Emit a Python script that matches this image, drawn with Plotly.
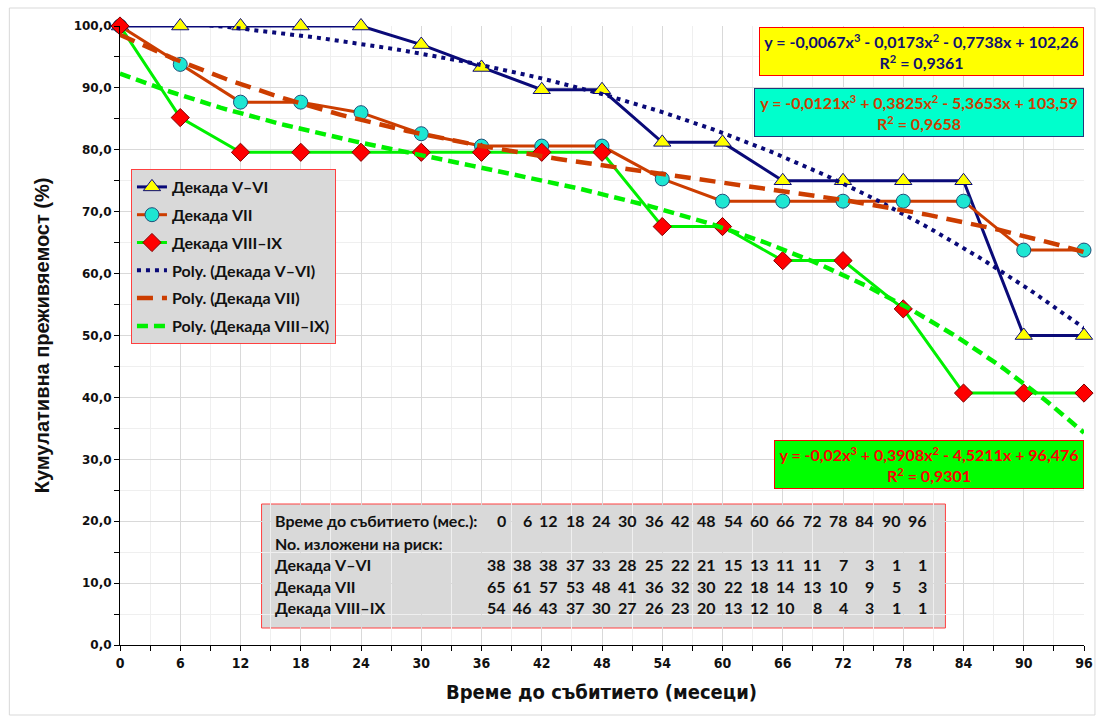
import numpy as np
import plotly.graph_objects as go

# ---------------- data ----------------
months = [0, 6, 12, 18, 24, 30, 36, 42, 48, 54, 60, 66, 72, 78, 84, 90, 96]

surv_v_vi = [100.0, 100.0, 100.0, 100.0, 100.0, 97.0, 93.3, 89.7, 89.7, 81.2, 81.2,
             75.0, 75.0, 75.0, 75.0, 50.0, 50.0]
surv_vii = [100.0, 93.8, 87.7, 87.7, 86.0, 82.6, 80.6, 80.6, 80.6, 75.3, 71.7,
            71.7, 71.7, 71.7, 71.7, 63.8, 63.8]
surv_viii_ix = [100.0, 85.2, 79.6, 79.6, 79.6, 79.6, 79.6, 79.6, 79.6, 67.6, 67.6,
                62.1, 62.1, 54.3, 40.7, 40.7, 40.7]

# cubic trend coefficients (x^3, x^2, x, 1), x = category index 1..17, as printed on chart
poly_v_vi = [-0.0067, -0.0173, -0.7738, 102.26]
poly_vii = [-0.0121, 0.3825, -5.3653, 103.59]
poly_viii_ix = [-0.02, 0.3908, -4.5211, 96.476]

eq_v_vi = "y = -0,0067x<sup>3</sup> - 0,0173x<sup>2</sup> - 0,7738x + 102,26<br>R<sup>2</sup> = 0,9361"
eq_vii = "y = -0,0121x<sup>3</sup> + 0,3825x<sup>2</sup> - 5,3653x + 103,59<br>R<sup>2</sup> = 0,9658"
eq_viii_ix = "y = -0,02x<sup>3</sup> + 0,3908x<sup>2</sup> - 4,5211x + 96,476<br>R<sup>2</sup> = 0,9301"

series_names = ["Декада V–VI", "Декада VII", "Декада VIII–IX"]

at_risk_v_vi = [38, 38, 38, 37, 33, 28, 25, 22, 21, 15, 13, 11, 11, 7, 3, 1, 1]
at_risk_vii = [65, 61, 57, 53, 48, 41, 36, 32, 30, 22, 18, 14, 13, 10, 9, 5, 3]
at_risk_viii_ix = [54, 46, 43, 37, 30, 27, 26, 23, 20, 13, 12, 10, 8, 4, 3, 1, 1]

table_header = "Време до събитието (мес.):"
table_sub = "No. изложени на риск:"
x_title = "Време до събитието (месеци)"
y_title = "Кумулативна преживяемост (%)"

# ---------------- geometry helpers ----------------
W, H = 1105, 722
PL, PR, PT, PB = 120, 1087, 26, 645


def px_x(px):
    return (px - PL) / (PR - PL)


def px_y(py):
    return (PB - py) / (PB - PT)


NAVY = "#0A0A78"
ORANGE = "#CC3D00"
GREEN = "#00F000"

fig = go.Figure()

styles = [
    dict(color=NAVY, symbol="triangle-up", fill="#FFFF00", mline=NAVY, size=15),
    dict(color=ORANGE, symbol="circle", fill="#1EE6D2", mline="#1F4E79", size=14),
    dict(color=GREEN, symbol="diamond", fill="#FF0000", mline="#800000", size=14),
]
for i, (name, ys) in enumerate(zip(series_names, [surv_v_vi, surv_vii, surv_viii_ix])):
    s = styles[i]
    fig.add_trace(go.Scatter(
        x=months, y=ys, name=name, mode="lines+markers", legendgroup=f"g{i}",
        line=dict(color=s["color"], width=3),
        marker=dict(symbol=s["symbol"], size=s["size"], color=s["fill"],
                    line=dict(color=s["mline"], width=1)),
        cliponaxis=False,
    ))

t_dense = np.linspace(0, 96, 193)
k_dense = t_dense / 6.0 + 1.0
trend_styles = [
    dict(color=NAVY, dash="4px,5px", width=4),
    dict(color=ORANGE, dash="16px,9px", width=4.5),
    dict(color=GREEN, dash="11px,6px", width=4.5),
]
for i, (name, coef) in enumerate(zip(series_names, [poly_v_vi, poly_vii, poly_viii_ix])):
    ts = trend_styles[i]
    fig.add_trace(go.Scatter(
        x=t_dense, y=np.polyval(coef, k_dense), name=f"Poly. ({name})", mode="lines",
        legendgroup=f"p{i}", line=dict(color=ts["color"], dash=ts["dash"], width=ts["width"]),
        cliponaxis=False,
    ))

annotations = []
# equation boxes
eq_boxes = [
    (eq_v_vi, 27, 323, "#FFFF00", "#FF0000", "#101070"),
    (eq_vii, 88, 328, "#00FFCC", "#1F3A7A", ORANGE),
    (eq_viii_ix, 440, 308, "#00FF00", "#FF0000", "#FF0000"),
]
for text, top, wbox, bg, border, fc in eq_boxes:
    annotations.append(dict(
        x=1.0, y=px_y(top), xref="paper", yref="paper", xanchor="right", yanchor="top",
        text=text, showarrow=False, bgcolor=bg, bordercolor=border, borderwidth=1,
        borderpad=0, width=wbox, height=47, align="center",
        font=dict(family="Lato", size=16, color=fc, weight="bold"),
    ))

# risk table
tfont = dict(family="Lato", size=16, color="#111111", weight="bold")
row_y = [520, 543, 564, 586, 607]
annotations.append(dict(x=px_x(273), y=px_y(row_y[0]), xref="paper", yref="paper",
                        xanchor="left", yanchor="middle", text=table_header,
                        showarrow=False, font=tfont))
annotations.append(dict(x=px_x(273), y=px_y(row_y[1]), xref="paper", yref="paper",
                        xanchor="left", yanchor="middle", text=table_sub,
                        showarrow=False, font=tfont))
for r, (name, vals) in enumerate(zip(series_names, [at_risk_v_vi, at_risk_vii, at_risk_viii_ix])):
    annotations.append(dict(x=px_x(273), y=px_y(row_y[2 + r]), xref="paper", yref="paper",
                            xanchor="left", yanchor="middle", text=name,
                            showarrow=False, font=tfont))
    for j, v in enumerate(vals):
        annotations.append(dict(x=px_x(509 + 26.4 * j), y=px_y(row_y[2 + r]), xref="paper",
                                yref="paper", xanchor="right", yanchor="middle", text=str(v),
                                showarrow=False, font=tfont))
for j, m in enumerate(months):
    annotations.append(dict(x=px_x(509 + 26.4 * j), y=px_y(row_y[0]), xref="paper",
                            yref="paper", xanchor="right", yanchor="middle", text=str(m),
                            showarrow=False, font=tfont))

# axis titles
annotations.append(dict(x=px_x(603), y=px_y(692), xref="paper", yref="paper",
                        xanchor="center", yanchor="middle", text=x_title, showarrow=False,
                        font=dict(family="DejaVu Sans Condensed", size=20, color="#111111",
                                  weight="bold")))
annotations.append(dict(x=px_x(42), y=px_y(335), xref="paper", yref="paper",
                        xanchor="center", yanchor="middle", text=y_title, showarrow=False,
                        textangle=-90,
                        font=dict(family="Liberation Sans", size=20, color="#111111",
                                  weight="bold")))

shapes = [
    dict(type="rect", xref="paper", yref="paper", x0=px_x(262), x1=px_x(948),
         y0=px_y(628), y1=px_y(504), fillcolor="#D9D9D9",
         line=dict(color="#FF4040", width=1), layer="between"),
    dict(type="rect", xref="paper", yref="paper", x0=px_x(9), x1=px_x(1098),
         y0=px_y(715), y1=px_y(8), line=dict(color="#D9D9D9", width=1), layer="above"),
]

fig.update_layout(
    width=W, height=H,
    margin=dict(l=PL, r=W - PR, t=PT, b=H - PB),
    paper_bgcolor="white", plot_bgcolor="white",
    separators=", ",
    showlegend=True,
    legend=dict(x=px_x(131), y=px_y(169), xanchor="left", yanchor="top",
                bgcolor="#D9D9D9", bordercolor="#FF4040", borderwidth=1,
                font=dict(family="Lato", size=16, color="#111111", weight="bold"),
                tracegroupgap=4, itemwidth=30),
    annotations=annotations,
    shapes=shapes,
    xaxis=dict(range=[0, 96], tickmode="linear", tick0=0, dtick=6,
               showgrid=True, gridcolor="#D9D9D9", gridwidth=1,
               minor=dict(dtick=3, tick0=0, showgrid=True, gridcolor="#EFEFEF",
                          ticks="outside", ticklen=5, tickcolor="black"),
               ticks="outside", ticklen=5, tickcolor="black",
               showline=True, linecolor="black", linewidth=1, zeroline=False,
               tickfont=dict(family="DejaVu Sans Condensed", size=14, color="#111111",
                             weight="bold")),
    yaxis=dict(range=[0, 100], tickmode="linear", tick0=0, dtick=10, tickformat=".1f",
               showgrid=True, gridcolor="#D9D9D9", gridwidth=1,
               minor=dict(dtick=5, tick0=0, showgrid=True, gridcolor="#EFEFEF",
                          ticks="outside", ticklen=5, tickcolor="black"),
               ticks="outside", ticklen=5, tickcolor="black",
               showline=True, linecolor="black", linewidth=1, zeroline=False,
               tickfont=dict(family="DejaVu Sans", size=12, color="#111111",
                             weight="bold")),
)

fig.write_html("out.html")
